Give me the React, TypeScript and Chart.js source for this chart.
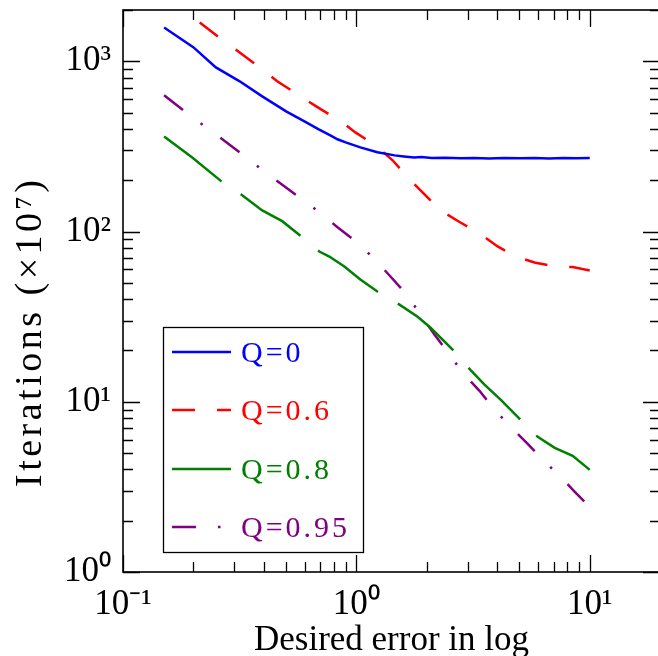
import { useEffect, useRef } from 'react';
import { Chart, registerables } from 'chart.js';

Chart.register(...registerables);

// ---------- data ----------
const seriesNames = ['Q=0', 'Q=0.6', 'Q=0.8', 'Q=0.95'];
const seriesColors = ['#0000ff', '#ff0000', '#008000', '#800080'];

const xQ0 = [0.15, 0.2, 0.25, 0.315, 0.395, 0.5, 0.61, 0.69, 0.77, 0.83, 0.9, 1.04, 1.23, 1.46, 1.6, 1.77, 1.9, 2.1, 2.4, 2.8, 3.2, 3.7, 4.3, 5.0, 5.8, 6.7, 7.7, 8.8, 10];
const yQ0 = [1580, 1210, 920, 765, 622, 508, 438, 398, 368, 348, 334, 312, 292, 280, 276, 272, 274, 270, 271, 269, 270, 268, 270, 269, 270, 268, 270, 269, 270];

const xQ06 = [0.15, 0.179, 0.218, 0.264, 0.315, 0.384, 0.458, 0.558, 0.673, 0.766, 0.813, 0.99, 1.21, 1.43, 1.66, 1.96, 2.29, 2.79, 3.37, 4.03, 4.81, 5.8, 7.08, 8.45, 10];
const yQ06 = [2450, 2020, 1650, 1346, 1130, 922, 763, 640, 543, 487, 469, 382, 320, 262, 208, 165, 133, 113, 97.3, 81.7, 71.3, 65.8, 62.3, 61.8, 59];

const xQ08 = [0.15, 0.198, 0.264, 0.321, 0.395, 0.481, 0.581, 0.694, 0.766, 0.888, 1.04, 1.23, 1.53, 1.83, 2.08, 2.61, 3.08, 3.54, 4.15, 4.96, 5.8, 7.08, 8.45, 10];
const yQ08 = [362, 272, 197, 165, 133, 115, 93.5, 76.3, 71.3, 62.3, 52.2, 44.4, 37.2, 31.6, 27.2, 19.95, 15.4, 12.6, 10.3, 8.05, 6.4, 5.36, 4.81, 3.98];

const xQ095 = [0.15, 0.179, 0.218, 0.264, 0.321, 0.387, 0.467, 0.569, 0.687, 0.83, 1.01, 1.19, 1.4, 1.66, 1.88, 2.16, 2.51, 2.88, 3.37, 3.91, 4.58, 5.37, 6.29, 7.43, 8.63, 10];
const yQ095 = [631, 522, 426, 352, 287, 235, 194, 159, 131, 106, 86, 69.4, 54.4, 42.0, 32.5, 24.8, 18.9, 14.6, 11.6, 8.97, 7.13, 5.74, 4.56, 3.67, 2.96, 2.41];

const xTickValues = [0.1, 1, 10];
const xTickLabels = ['10⁻¹', '10⁰', '10¹'];
const yTickValues = [1, 10, 100, 1000];
const yTickLabels = ['10⁰', '10¹', '10²', '10³'];

const xTitle = 'Desired error in log';
const yTitle = 'Iterations (×10⁷)';

const X_MIN = 0.1;
const X_MAX = 20;
const Y_MIN = 1;
const Y_MAX = 2000;

const FONT = "'Liberation Serif', 'Times New Roman', serif";

const toPoints = (xs: number[], ys: number[]) => xs.map((x, i) => ({ x, y: ys[i] }));

function minorValues(min: number, max: number): number[] {
  const out: number[] = [];
  const start = Math.floor(Math.log10(min));
  const end = Math.ceil(Math.log10(max));
  for (let e = start; e <= end; e++) {
    for (let m = 2; m <= 9; m++) {
      const v = m * Math.pow(10, e);
      if (v >= min - 1e-12 && v <= max + 1e-9) out.push(v);
    }
  }
  return out;
}

const framePlugin = {
  id: 'frameTicks',
  afterDraw(chart: any) {
    const { ctx, chartArea: a, scales } = chart;
    const xs = scales.x;
    const ys = scales.y;
    ctx.save();
    ctx.strokeStyle = '#000';
    // ticks
    ctx.lineWidth = 1.3;
    const major = 17;
    const minor = 10;
    const drawX = (v: number, len: number) => {
      const px = Math.round(xs.getPixelForValue(v)) + 0.5;
      ctx.beginPath();
      ctx.moveTo(px, a.bottom);
      ctx.lineTo(px, a.bottom - len);
      ctx.moveTo(px, a.top);
      ctx.lineTo(px, a.top + len);
      ctx.stroke();
    };
    const drawY = (v: number, len: number) => {
      const py = Math.round(ys.getPixelForValue(v)) + 0.5;
      ctx.beginPath();
      ctx.moveTo(a.left, py);
      ctx.lineTo(a.left + len, py);
      ctx.moveTo(a.right, py);
      ctx.lineTo(a.right - len, py);
      ctx.stroke();
    };
    xTickValues.forEach((v) => drawX(v, major));
    minorValues(X_MIN, X_MAX).forEach((v) => drawX(v, minor));
    yTickValues.forEach((v) => drawY(v, major));
    minorValues(Y_MIN, Y_MAX).forEach((v) => drawY(v, minor));
    // frame
    ctx.lineWidth = 1.6;
    ctx.strokeRect(a.left, a.top, a.right - a.left, a.bottom - a.top);

    // y axis title
    ctx.save();
    ctx.fillStyle = '#000';
    ctx.font = `38px ${FONT}`;
    (ctx as any).letterSpacing = '3.5px';
    ctx.translate(41, 487);
    ctx.rotate(-Math.PI / 2);
    ctx.textAlign = 'left';
    ctx.textBaseline = 'alphabetic';
    ctx.fillText(yTitle, 0, 0);
    ctx.restore();

    // legend
    const box = { x: 163.5, y: 327.5, w: 200, h: 225 };
    ctx.fillStyle = '#fff';
    ctx.fillRect(box.x, box.y, box.w, box.h);
    ctx.lineWidth = 1.3;
    ctx.strokeStyle = '#000';
    ctx.strokeRect(box.x, box.y, box.w, box.h);
    const rowY = [352, 410, 469, 527];
    chart.data.datasets.forEach((ds: any, i: number) => {
      const y = rowY[i];
      ctx.save();
      ctx.strokeStyle = ds.borderColor;
      ctx.lineWidth = ds.borderWidth;
      ctx.setLineDash(ds.borderDash || []);
      ctx.beginPath();
      ctx.moveTo(172, y);
      ctx.lineTo(231, y);
      ctx.stroke();
      ctx.setLineDash([]);
      ctx.fillStyle = ds.borderColor;
      ctx.font = `30px ${FONT}`;
      (ctx as any).letterSpacing = '3px';
      ctx.textAlign = 'left';
      ctx.textBaseline = 'alphabetic';
      ctx.fillText(ds.label, 241, y + 10);
      ctx.restore();
    });
    ctx.restore();
  },
};

export default function App() {
  const ref = useRef<HTMLCanvasElement | null>(null);

  useEffect(() => {
    if (!ref.current) return;
    const common = { pointRadius: 0, borderWidth: 2.5, fill: false, tension: 0 };
    const chart = new Chart(ref.current, {
      type: 'line',
      data: {
        datasets: [
          { ...common, label: seriesNames[0], data: toPoints(xQ0, yQ0), borderColor: seriesColors[0], borderDash: [] },
          { ...common, label: seriesNames[1], data: toPoints(xQ06, yQ06), borderColor: seriesColors[1], borderDash: [23, 22] },
          { ...common, label: seriesNames[2], data: toPoints(xQ08, yQ08), borderColor: seriesColors[2], borderDash: [73, 23] },
          { ...common, label: seriesNames[3], data: toPoints(xQ095, yQ095), borderColor: seriesColors[3], borderDash: [24, 22, 2.5, 22] },
        ],
      },
      options: {
        animation: false,
        responsive: false,
        devicePixelRatio: 1,
        parsing: false as any,
        layout: { padding: { left: 8, top: 10, right: 40, bottom: 0 } },
        plugins: {
          legend: { display: false },
          tooltip: { enabled: false },
        },
        scales: {
          x: {
            type: 'logarithmic',
            min: X_MIN,
            max: X_MAX,
            grid: { display: false, drawTicks: false },
            border: { display: false },
            afterBuildTicks: (s: any) => {
              s.ticks = xTickValues.map((v) => ({ value: v }));
            },
            afterFit: (s: any) => {
              s.height = 108;
              s.paddingLeft = 0;
              s.paddingRight = 0;
            },
            ticks: {
              autoSkip: false,
              maxRotation: 0,
              minRotation: 0,
              padding: 12,
              color: '#000',
              font: { family: FONT, size: 35 },
              callback: (v: any) => {
                const i = xTickValues.findIndex((t) => Math.abs(t - Number(v)) < 1e-9);
                return i >= 0 ? xTickLabels[i] : '';
              },
            },
            title: {
              display: true,
              text: xTitle,
              color: '#000',
              font: { family: FONT, size: 35 },
              padding: { top: 0, bottom: 18 },
            },
          },
          y: {
            type: 'logarithmic',
            min: Y_MIN,
            max: Y_MAX,
            grid: { display: false, drawTicks: false },
            border: { display: false },
            afterBuildTicks: (s: any) => {
              s.ticks = yTickValues.map((v) => ({ value: v }));
            },
            afterFit: (s: any) => {
              s.width = 115;
              s.paddingTop = 0;
              s.paddingBottom = 0;
            },
            ticks: {
              autoSkip: false,
              padding: 12,
              color: '#000',
              font: { family: FONT, size: 35 },
              callback: (v: any) => {
                const i = yTickValues.findIndex((t) => Math.abs(t - Number(v)) < 1e-9);
                return i >= 0 ? yTickLabels[i] : '';
              },
            },
          },
        },
      },
      plugins: [framePlugin],
    });
    return () => chart.destroy();
  }, []);

  return (
    <div style={{ position: 'absolute', left: 0, top: 0, width: 658, height: 656, overflow: 'hidden', background: '#fff' }}>
      <canvas ref={ref} width={700} height={680} style={{ display: 'block', width: 700, height: 680 }} />
    </div>
  );
}
